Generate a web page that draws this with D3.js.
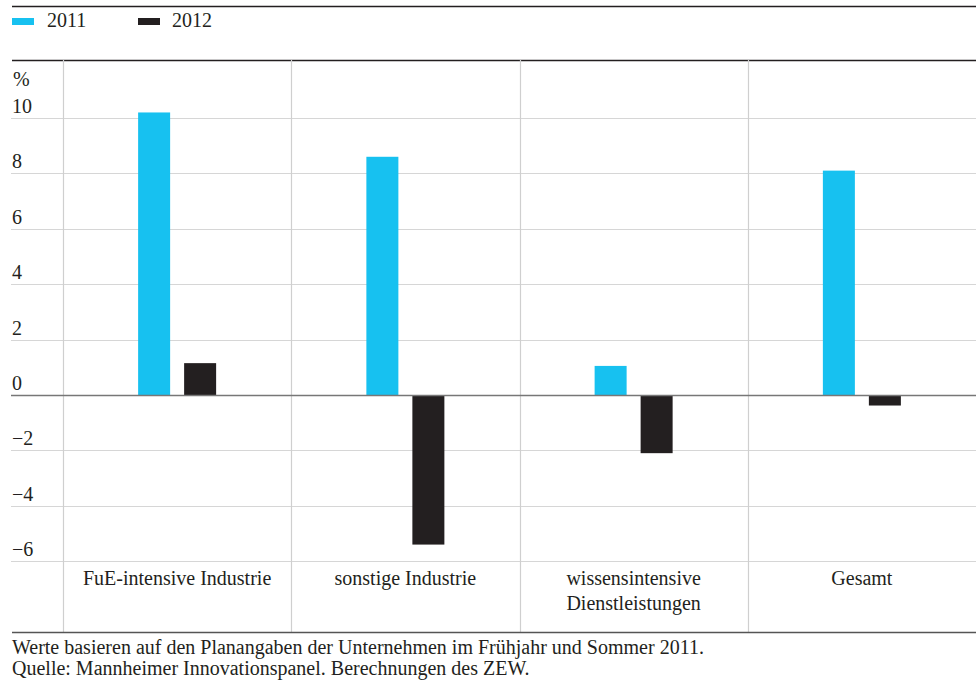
<!DOCTYPE html>
<html>
<head>
<meta charset="utf-8">
<script src="https://cdn.jsdelivr.net/npm/d3@7"></script>
<style>
  html, body { margin: 0; padding: 0; background: #fff; }
  svg { display: block; }
  svg text { font-family: "Liberation Serif", "Times New Roman", serif; }
</style>
</head>
<body>
<svg id="chart" width="976" height="681"></svg>
<script>
// Veränderung der Innovationsausgaben in %, nach Sektoren
const categories = [["FuE-intensive Industrie"], ["sonstige Industrie"], ["wissensintensive", "Dienstleistungen"], ["Gesamt"]];
const years = ["2011", "2012"];
const values2011 = [10.2, 8.6, 1.05, 8.1];
const values2012 = [1.15, -5.4, -2.1, -0.38];
const yTicks = [-6, -4, -2, 0, 2, 4, 6, 8, 10];
const colors = { "2011": "#17c1f0", "2012": "#231f20" };
const footnotes = [
  "Werte basieren auf den Planangaben der Unternehmen im Frühjahr und Sommer 2011.",
  "Quelle: Mannheimer Innovationspanel. Berechnungen des ZEW."
];

const svg = d3.select("#chart");
const W = 976;
const FS = 20;
const left = 63, right = 976, plotTop = 60, plotBottom = 632, gridLeft = 11;

const x = d3.scaleBand().domain(d3.range(categories.length)).range([left, right]);
const y = d3.scaleLinear().domain([0, 10]).range([395, 118]);
const barW = 32, gap = 14;

// Rahmenlinien oben
svg.append("line").attr("x1", 12).attr("x2", W).attr("y1", 6.5).attr("y2", 6.5)
  .attr("stroke", "#231f20").attr("stroke-width", 1.3);
svg.append("line").attr("x1", 12).attr("x2", W).attr("y1", 60.5).attr("y2", 60.5)
  .attr("stroke", "#231f20").attr("stroke-width", 1.3);

// Legende
const legend = svg.append("g");
[[12, 47], [138, 172]].forEach(([sx, tx], i) => {
  legend.append("rect").attr("x", sx).attr("y", 18).attr("width", 22).attr("height", 7)
    .attr("fill", colors[years[i]]);
  legend.append("text").attr("x", tx).attr("y", 27).attr("font-size", FS)
    .attr("fill", "#231f20").text(years[i]);
});

// Horizontale Gitterlinien
svg.append("g").selectAll("line").data(yTicks.filter(d => d !== 0)).join("line")
  .attr("x1", gridLeft).attr("x2", W)
  .attr("y1", d => Math.round(y(d)) + 0.5).attr("y2", d => Math.round(y(d)) + 0.5)
  .attr("stroke", "#d6d6d6").attr("stroke-width", 1.2);

// Vertikale Trennlinien
const seps = [left, ...d3.range(1, categories.length).map(i => x(i))];
svg.append("g").selectAll("line").data(seps).join("line")
  .attr("x1", d => Math.round(d) + 0.5).attr("x2", d => Math.round(d) + 0.5)
  .attr("y1", plotTop).attr("y2", plotBottom)
  .attr("stroke", "#cfcfcf").attr("stroke-width", 1.2);

// Y-Achsenbeschriftung
const yAxis = svg.append("g").attr("font-size", FS).attr("fill", "#231f20");
yAxis.selectAll("text").data(yTicks).join("text")
  .attr("x", 12).attr("y", d => y(d) - 5)
  .text(d => d < 0 ? "\u2212" + Math.abs(d) : String(d));
yAxis.append("text").attr("x", 13).attr("y", 86).text("%");

// Balken
const bars = svg.append("g");
bars.selectAll("rect.b2011").data(values2011).join("rect").attr("class", "b2011")
  .attr("x", (d, i) => x(i) + x.bandwidth() / 2 - gap / 2 - barW)
  .attr("width", barW)
  .attr("y", d => y(Math.max(0, d))).attr("height", d => Math.abs(y(d) - y(0)))
  .attr("fill", colors["2011"]);
bars.selectAll("rect.b2012").data(values2012).join("rect").attr("class", "b2012")
  .attr("x", (d, i) => x(i) + x.bandwidth() / 2 + gap / 2)
  .attr("width", barW)
  .attr("y", d => y(Math.max(0, d))).attr("height", d => Math.abs(y(d) - y(0)))
  .attr("fill", colors["2012"]);

// Nulllinie
svg.append("line").attr("x1", gridLeft).attr("x2", W)
  .attr("y1", y(0) + 0.5).attr("y2", y(0) + 0.5)
  .attr("stroke", "#777").attr("stroke-width", 1.3);

// Kategorienbeschriftung
const catG = svg.append("g").attr("font-size", FS).attr("fill", "#231f20").attr("text-anchor", "middle");
categories.forEach((lines, i) => {
  lines.forEach((t, j) => {
    catG.append("text").attr("x", x(i) + x.bandwidth() / 2).attr("y", 585 + j * 25).text(t);
  });
});

// Untere Linie
svg.append("line").attr("x1", 12).attr("x2", W).attr("y1", 632.5).attr("y2", 632.5)
  .attr("stroke", "#555").attr("stroke-width", 1.3);

// Fußnoten
footnotes.forEach((t, i) => {
  svg.append("text").attr("x", 12).attr("y", 654 + i * 21).attr("font-size", FS)
    .attr("fill", "#231f20").text(t);
});
</script>
</body>
</html>
